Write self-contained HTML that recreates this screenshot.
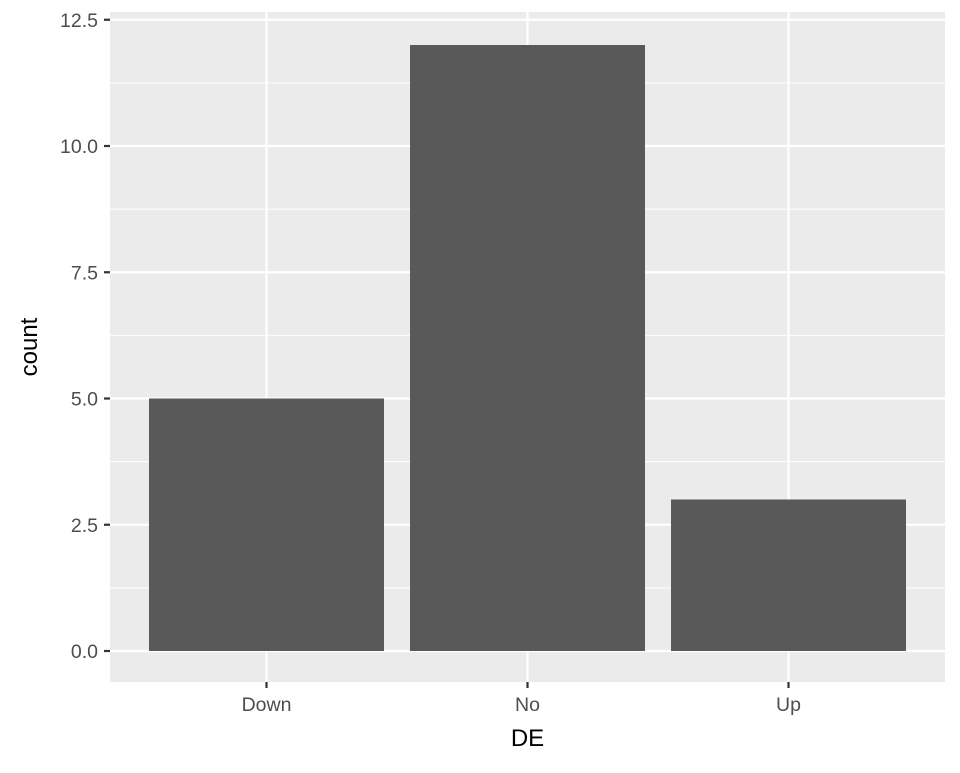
<!DOCTYPE html>
<html><head><meta charset="utf-8"><style>
body{margin:0;background:#fff;font-family:"Liberation Sans",sans-serif}
</style></head><body>
<svg id="chart" width="960" height="768" xmlns="http://www.w3.org/2000/svg">
<rect x="110" y="12" width="835" height="670" fill="#ebebeb"/>
<g id="grid"></g><g id="bars"></g><g id="axes"></g>
<text x="527.5" y="746" font-size="24" text-anchor="middle" fill="#000">DE</text>
<text transform="translate(37,347) rotate(-90)" font-size="24" text-anchor="middle" fill="#000">count</text>
</svg>
<script>
const categories=["Down","No","Up"];
const counts=[5,12,3];
const yTicks=[0,2.5,5,7.5,10,12.5];
const yTickLabels=["0.0","2.5","5.0","7.5","10.0","12.5"];
const NS="http://www.w3.org/2000/svg";
const x0=110,x1=945,step=261,firstC=266.5;
const y=v=>651-v*50.5;
const xc=i=>firstC+i*step;
function mk(t,a,p){const e=document.createElementNS(NS,t);for(const k in a)e.setAttribute(k,a[k]);p.appendChild(e);return e;}
const grid=document.getElementById('grid'),bars=document.getElementById('bars'),axes=document.getElementById('axes');
for(let i=0;i<yTicks.length-1;i++){const m=(yTicks[i]+yTicks[i+1])/2;
const l=mk('line',{x1:x0,x2:x1,y1:y(m),y2:y(m),stroke:'#fff','stroke-width':1.1},grid);

}
yTicks.forEach((v,i)=>{
const l=mk('line',{x1:x0,x2:x1,y1:y(v),y2:y(v),stroke:'#fff','stroke-width':2.2},grid);


const t=mk('line',{x1:104,x2:110,y1:y(v),y2:y(v),stroke:'#333','stroke-width':2.2},axes);


const tx=mk('text',{x:98,y:y(v)+7,'font-size':19.5,'text-anchor':'end',fill:'#4d4d4d'},axes);
tx.textContent=yTickLabels[i];


});
categories.forEach((c,i)=>{
const g=mk('line',{x1:xc(i),x2:xc(i),y1:12,y2:682,stroke:'#fff','stroke-width':2.2},grid);


const b=mk('rect',{x:xc(i)-117.5,y:y(counts[i]),width:235,height:y(0)-y(counts[i]),fill:'#595959'},bars);


const t=mk('line',{x1:xc(i),x2:xc(i),y1:682,y2:688,stroke:'#333','stroke-width':2.2},axes);


const tx=mk('text',{x:xc(i),y:711,'font-size':19.5,'text-anchor':'middle',fill:'#4d4d4d'},axes);
tx.textContent=c;


});
</script>
</body></html>
